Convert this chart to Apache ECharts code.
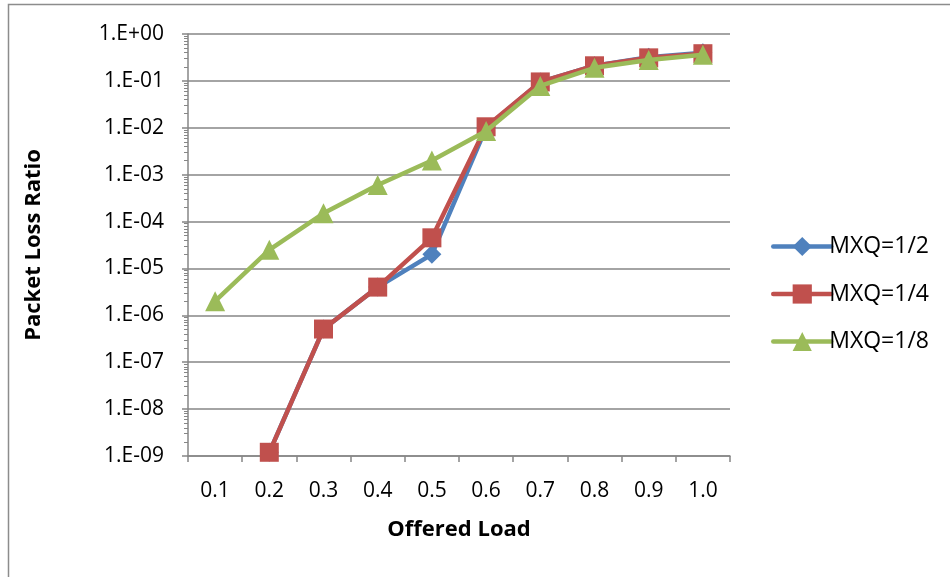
<!DOCTYPE html>
<html>
<head>
<meta charset="utf-8">
<script src="https://cdn.jsdelivr.net/npm/echarts@6/dist/echarts.min.js"></script>
<style>
html,body{margin:0;padding:0;background:#fff;}
#chart{width:950px;height:577px;}
</style>
</head>
<body>
<div id="chart"></div>
<script>
const categories = ['0.1','0.2','0.3','0.4','0.5','0.6','0.7','0.8','0.9','1.0'];
const seriesNames = ['MXQ=1/2','MXQ=1/4','MXQ=1/8'];
const mxq2 = [null, 1.2e-9, 5.1e-7, 4.0e-6, 2.0e-5, 1.0e-2, 9.5e-2, 0.21, 0.32, 0.40];
const mxq4 = [null, 1.2e-9, 5.1e-7, 4.0e-6, 4.5e-5, 1.05e-2, 9.5e-2, 0.21, 0.31, 0.38];
const mxq8 = [2.0e-6, 2.5e-5, 1.5e-4, 6.0e-4, 2.0e-3, 8.5e-3, 7.8e-2, 0.19, 0.28, 0.36];
const yMin = 1e-9, yMax = 1;

const FONT = '"Open Sans", sans-serif';
const chart = echarts.init(document.getElementById('chart'), null, {renderer:'canvas'});

function fmt(v){
  const e = Math.round(Math.log10(v));
  if (e === 0) return '1.E+00';
  const a = Math.abs(e);
  return '1.E' + (e < 0 ? '-' : '+') + (a < 10 ? '0' + a : a);
}

const colors = ['#4F81BD', '#C0504D', '#9BBB59'];
const symbols = ['diamond', 'rect', 'triangle'];
const sizes = [19, 19, 20];
const datas = [mxq2, mxq4, mxq8];

chart.setOption({
  animation: false,
  graphic: [{
    type: 'rect',
    shape: {x: 8.5, y: 4.5, width: 960, height: 600},
    style: {fill: 'none', stroke: '#8c8c8c', lineWidth: 1.5},
    silent: true
  }],
  grid: {left: 188, right: 220, top: 34, bottom: 121},
  legend: {
    orient: 'vertical',
    left: 766,
    top: 230,
    itemWidth: 58,
    itemHeight: 24,
    itemGap: 24.5,
    lineStyle: {width: 4.5, cap: 'round'},
    textStyle: {fontFamily: FONT, fontSize: 23, color: '#000', padding: [0,0,0,-7]},
    data: seriesNames
  },
  xAxis: {
    type: 'category',
    data: categories,
    boundaryGap: true,
    name: 'Offered Load',
    nameLocation: 'middle',
    nameGap: 63,
    nameTextStyle: {fontFamily: FONT, fontSize: 22, fontWeight: 'bold', color: '#000'},
    axisLine: {lineStyle: {color: '#868686', width: 1.5}},
    axisTick: {show: true, length: 6, alignWithLabel: false, lineStyle: {color: '#868686', width: 1.5}},
    axisLabel: {fontFamily: FONT, fontSize: 21, color: '#000', margin: 25},
    splitLine: {show: false}
  },
  yAxis: {
    type: 'log',
    logBase: 10,
    min: yMin,
    max: yMax,
    name: 'Packet Loss Ratio',
    nameLocation: 'middle',
    nameGap: 143,
    nameTextStyle: {fontFamily: FONT, fontSize: 22, fontWeight: 'bold', color: '#000'},
    axisLine: {show: true, lineStyle: {color: '#868686', width: 1.5}},
    axisTick: {show: true, inside: false, length: 6, lineStyle: {color: '#868686', width: 1.5}},
    minorTick: {show: true, splitNumber: 9, length: 4, lineStyle: {color: '#868686', width: 1}},
    axisLabel: {fontFamily: FONT, fontSize: 21, color: '#000', margin: 24, formatter: fmt},
    splitLine: {show: true, lineStyle: {color: '#868686', width: 1.5}}
  },
  series: datas.map((d, i) => ({
    name: seriesNames[i],
    type: 'line',
    data: d,
    symbol: symbols[i],
    symbolSize: sizes[i],
    showAllSymbol: true,
    connectNulls: false,
    lineStyle: {color: colors[i], width: 4.5},
    itemStyle: {color: colors[i]},
    z: 2 + i
  }))
});
</script>
</body>
</html>
